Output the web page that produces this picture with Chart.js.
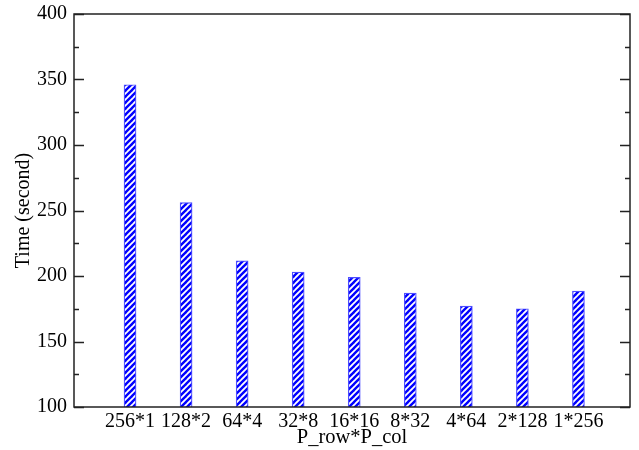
<!DOCTYPE html>
<html><head><meta charset="utf-8">
<script src="https://cdn.jsdelivr.net/npm/chart.js@4/dist/chart.umd.min.js"></script>
<style>html,body{margin:0;padding:0;background:#fff;}#wrap{width:639px;height:450px;}</style>
</head><body><div id="wrap"><canvas id="c" width="639" height="450"></canvas></div>
<script>
const categories = ["256*1","128*2","64*4","32*8","16*16","8*32","4*64","2*128","1*256"];
const times = [346, 256, 211.5, 203, 199, 187, 177, 175, 188.5];
const yTicks = [100,150,200,250,300,350,400];

function stripePattern(){
  const p = document.createElement('canvas');
  p.width = 6; p.height = 6;
  const g = p.getContext('2d');
  g.fillStyle = '#fff'; g.fillRect(0,0,6,6);
  g.strokeStyle = '#0000ff'; g.lineWidth = 2.4;
  for (let k=-1;k<=1;k++){
    g.beginPath(); g.moveTo(-1+6*k, 7); g.lineTo(7+6*k, -1); g.stroke();
  }
  return g.createPattern(p,'repeat');
}
const ctx = document.getElementById('c').getContext('2d');
const pat = stripePattern();

const frame = {
  id:'frame',
  afterDraw(chart){
    const {ctx, chartArea:a, scales:{y}} = chart;
    ctx.save();
    ctx.strokeStyle = '#222'; ctx.lineWidth = 1.5;
    for (let v=100; v<=400; v+=25){
      const py = Math.round(y.getPixelForValue(v))+0.5;
      const len = (v%50===0)?10:5;
      ctx.beginPath();
      ctx.moveTo(a.left,py); ctx.lineTo(a.left+len,py);
      ctx.moveTo(a.right,py); ctx.lineTo(a.right-len,py);
      ctx.stroke();
    }
    ctx.strokeRect(a.left, a.top, a.right-a.left, a.bottom-a.top);
    ctx.restore();
  }
};

new Chart(ctx, {
  type:'bar',
  data:{
    datasets:[{
      data: times.map((t,i)=>({x:i+1, y:t})),
      backgroundColor: pat,
      borderColor:'#4d4dff',
      borderWidth:1.2,
      barThickness:12
    }]
  },
  options:{
    responsive:false, animation:false,
    layout:{padding:{top:14,right:9,left:0,bottom:0}},
    plugins:{legend:{display:false}, tooltip:{enabled:false}},
    scales:{
      x:{
        type:'linear', min:0, max:9.92, offset:false,
        grid:{display:false, drawTicks:false}, border:{display:false},
        afterBuildTicks(s){ s.ticks = categories.map((c,i)=>({value:i+1})); },
        ticks:{padding:3, color:'#000', font:{family:'Liberation Serif', size:20},
          autoSkip:false, maxRotation:0,
          callback:(v)=>categories[Math.round(v)-1] || ''},
        title:{display:true, text:'P_row*P_col', color:'#000', padding:{top:1,bottom:0},
          font:{family:'Liberation Serif', size:20.5}},
        afterFit(s){ s.height = 43; s.paddingLeft = 0; s.paddingRight = 0; }
      },
      y:{
        min:100, max:400,
        grid:{display:false, drawTicks:false}, border:{display:false},
        afterBuildTicks(s){ s.ticks = yTicks.map(v=>({value:v})); },
        ticks:{padding:7, color:'#000', font:{family:'Liberation Serif', size:20}},
        title:{display:true, text:'Time (second)', color:'#000', padding:{top:12,bottom:4},
          font:{family:'Liberation Serif', size:20}},
        afterFit(s){ s.width = 74; s.paddingTop = 0; s.paddingBottom = 0; }
      }
    }
  },
  plugins:[frame]
});
</script></body></html>
